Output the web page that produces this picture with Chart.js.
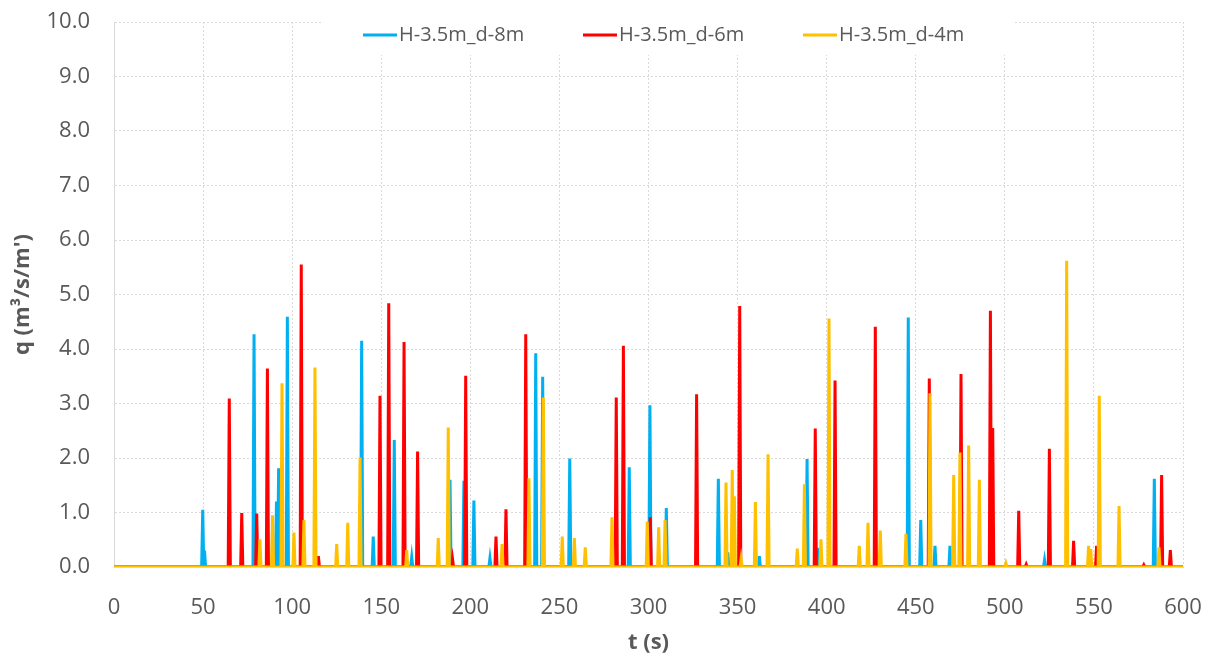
<!DOCTYPE html>
<html>
<head>
<meta charset="utf-8">
<title>q(t)</title>
<script src="https://cdn.jsdelivr.net/npm/chart.js@4.4.1/dist/chart.umd.min.js"></script>
<style>
  html, body { margin: 0; padding: 0; background: #ffffff; }
  #wrap { width: 1212px; height: 657px; }
</style>
</head>
<body>
<div id="wrap"><canvas id="chart" width="1212" height="657"></canvas></div>
<script>
'use strict';

// ─── Datos ───────────────────────────────────────────────────────────────────
const X_TICKS = [0, 50, 100, 150, 200, 250, 300, 350, 400, 450, 500, 550, 600];
const Y_TICKS = [0, 1, 2, 3, 4, 5, 6, 7, 8, 9, 10];

const SERIES_LABELS = ['H-3.5m_d-8m', 'H-3.5m_d-6m', 'H-3.5m_d-4m'];

// H-3.5m_d-8m : instantes de pico (s) y caudal de pico (m3/s/m')
const T_D8 = [49.8, 50.8, 78.6, 91.2, 92.4, 97.3, 139.0, 145.5, 157.3, 167.1, 188.6, 196.4, 202.0,
    211.0, 236.7, 240.6, 255.8, 289.2, 300.8, 310.0, 339.2, 344.5, 362.2, 389.0, 394.8, 445.8,
    452.8, 460.8, 469.2, 522.3, 583.9];
const Q_D8 = [1.05, 0.30, 4.27, 1.20, 1.81, 4.59, 4.15, 0.56, 2.33, 0.18, 1.60, 1.58, 1.22,
    0.16, 3.92, 3.49, 1.99, 1.83, 2.97, 1.08, 1.62, 0.27, 0.20, 1.98, 0.35, 4.58,
    0.86, 0.39, 0.39, 0.13, 1.62];

// H-3.5m_d-6m
const T_D6 = [64.7, 71.7, 80.1, 86.1, 105.1, 114.7, 149.3, 154.2, 162.8, 170.4, 190.0, 197.4,
    214.4, 220.0, 231.1, 281.9, 285.9, 301.0, 327.0, 351.2, 393.6, 404.7, 427.3, 457.6, 475.4,
    491.9, 493.2, 507.8, 512.0, 525.0, 538.6, 551.5, 578.0, 588.0, 592.9];
const Q_D6 = [3.09, 0.99, 0.98, 3.64, 5.55, 0.20, 3.14, 4.84, 4.13, 2.12, 0.15, 3.51,
    0.56, 1.06, 4.27, 3.11, 4.06, 0.91, 3.17, 4.79, 2.54, 3.42, 4.41, 3.46, 3.54,
    4.70, 2.55, 1.03, 0.05, 2.17, 0.48, 0.39, 0.04, 1.69, 0.31];

// H-3.5m_d-4m
const T_D4 = [81.9, 89.0, 94.3, 101.0, 106.6, 112.8, 125.0, 131.2, 138.1, 164.3, 182.0, 187.6,
    217.8, 232.9, 241.0, 251.6, 258.4, 264.5, 279.5, 299.3, 305.7, 309.3, 343.5, 347.0, 348.2,
    352.0, 360.0, 367.1, 383.5, 387.5, 396.8, 401.3, 418.3, 423.2, 430.1, 444.5, 458.0, 471.3,
    474.8, 479.7, 485.7, 500.6, 534.7, 547.0, 548.2, 553.0, 564.1, 586.5];
const Q_D4 = [0.51, 0.95, 3.37, 0.63, 0.86, 3.66, 0.42, 0.81, 2.01, 0.31, 0.53, 2.56,
    0.42, 1.63, 3.11, 0.56, 0.53, 0.36, 0.91, 0.83, 0.73, 0.86, 1.55, 1.78, 1.30,
    0.15, 1.19, 2.07, 0.34, 1.52, 0.51, 4.56, 0.39, 0.81, 0.67, 0.61, 3.19, 1.69,
    2.10, 2.23, 1.60, 0.07, 5.62, 0.39, 0.33, 3.14, 1.12, 0.36];

// ─── Estilo ──────────────────────────────────────────────────────────────────
const COLORS = ['#00b0f0', '#ff0000', '#ffc000'];
const TEXT = '#595959';
const GRID = '#d9d9d9';
const FONT = "'Open Sans', 'Liberation Sans', sans-serif";
const HALF = 0.6; // semiancho de cada pico (s)

// Cada pico: base a 0, cima, base a 0
function buildSeries(times, peaks) {
    const pts = [{ x: X_TICKS[0], y: 0 }];
    times.forEach((t, i) => {
        pts.push({ x: t - HALF, y: 0 }, { x: t, y: peaks[i] }, { x: t + HALF, y: 0 });
    });
    pts.push({ x: X_TICKS[X_TICKS.length - 1], y: 0 });
    return pts;
}

// Leyenda con fondo blanco dentro del área de trazado
const legendBox = {
    id: 'legendBox',
    afterDraw(chart) {
        const { ctx, chartArea } = chart;
        ctx.save();
        ctx.fillStyle = '#ffffff';
        ctx.fillRect(chartArea.left + 208, chartArea.top - 1, 693, 34);
        ctx.font = '20px ' + FONT;
        ctx.textBaseline = 'middle';
        const y = chartArea.top + 13;
        let x = chartArea.left + 249;
        chart.data.datasets.forEach(ds => {
            ctx.strokeStyle = ds.borderColor;
            ctx.lineWidth = 3;
            ctx.beginPath();
            ctx.moveTo(x, y);
            ctx.lineTo(x + 34, y);
            ctx.stroke();
            ctx.fillStyle = TEXT;
            ctx.fillText(ds.label, x + 36, y);
            x += 220;
        });
        ctx.restore();
    },
};

const sets = [[T_D8, Q_D8], [T_D6, Q_D6], [T_D4, Q_D4]];

new Chart(document.getElementById('chart'), {
    type: 'line',
    data: {
        datasets: sets.map(([t, q], i) => ({
            label: SERIES_LABELS[i],
            data: buildSeries(t, q),
            borderColor: COLORS[i],
            backgroundColor: COLORS[i],
            borderWidth: 3,
            pointRadius: 0,
            tension: 0,
            order: 2 - i, // amarillo encima
        })),
    },
    options: {
        responsive: false,
        animation: false,
        layout: { padding: { top: 22, right: 29, left: 0, bottom: 0 } },
        plugins: {
            legend: { display: false },
            tooltip: { enabled: false },
        },
        scales: {
            x: {
                type: 'linear',
                min: X_TICKS[0],
                max: X_TICKS[X_TICKS.length - 1],
                afterBuildTicks: s => { s.ticks = X_TICKS.map(v => ({ value: v })); },
                afterFit: s => { s.height = 90; },
                grid: { color: GRID, drawTicks: true, tickLength: 24, tickColor: 'rgba(0,0,0,0)' },
                border: { color: GRID, dash: [2, 2] },
                ticks: { color: TEXT, font: { family: FONT, size: 22 }, padding: 4, maxRotation: 0 },
                title: {
                    display: true, text: 't (s)', color: TEXT,
                    font: { family: FONT, size: 22, weight: 'bold' },
                    padding: { top: 0, bottom: 1 },
                },
            },
            y: {
                min: Y_TICKS[0],
                max: Y_TICKS[Y_TICKS.length - 1],
                afterBuildTicks: s => { s.ticks = Y_TICKS.map(v => ({ value: v })); },
                afterFit: s => { s.width = 114; },
                grid: { color: GRID, drawTicks: true, tickLength: 20, tickColor: 'rgba(0,0,0,0)' },
                border: { color: GRID, dash: [2, 2] },
                ticks: {
                    color: TEXT, font: { family: FONT, size: 22 }, padding: 4,
                    callback: v => Number(v).toFixed(1),
                },
                title: {
                    display: true, text: "q (m³/s/m')", color: TEXT,
                    font: { family: FONT, size: 22, weight: 'bold' },
                    padding: { top: 10, bottom: 0 },
                },
            },
        },
    },
    plugins: [legendBox],
});
</script>
</body>
</html>
